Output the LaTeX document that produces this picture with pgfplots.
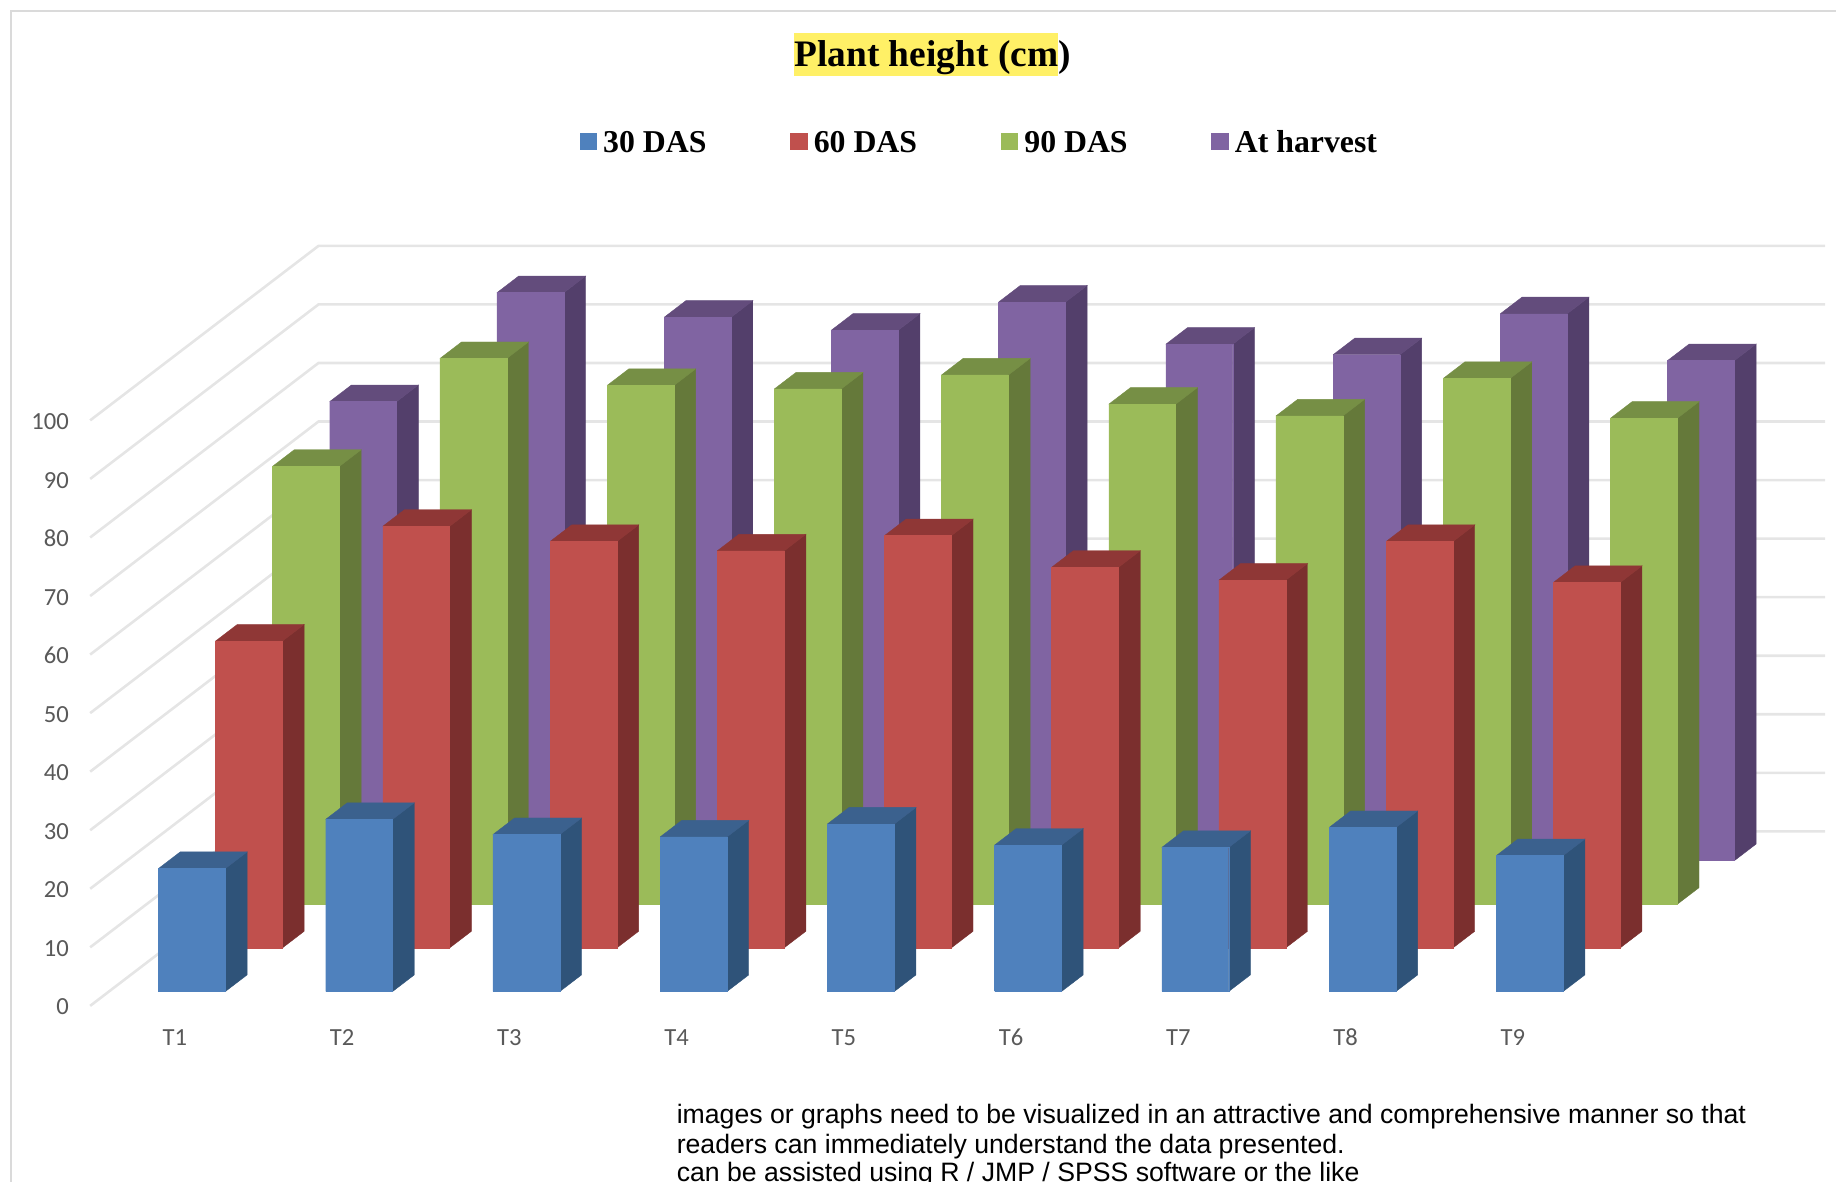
\documentclass[border=0pt]{standalone}
\usepackage{fontspec}
\usepackage{pgfplots}
\usepackage{pgfplotstable}
\pgfplotsset{compat=1.18}
\setmainfont{Liberation Serif}
\newfontfamily\carlito{Carlito}
\newfontfamily\arial{Liberation Sans}

\definecolor{gridc}{HTML}{E5E5E5}
\definecolor{framec}{HTML}{DADADA}
\definecolor{labelc}{HTML}{595959}
\definecolor{marker}{HTML}{FFF066}
\definecolor{bluefront}{HTML}{4F81BD}
\definecolor{bluetop}{HTML}{3B618E}
\definecolor{blueside}{HTML}{2F5379}
\definecolor{redfront}{HTML}{C0504D}
\definecolor{redtop}{HTML}{8F3736}
\definecolor{redside}{HTML}{7B2F2E}
\definecolor{greenfront}{HTML}{9BBB59}
\definecolor{greentop}{HTML}{768F45}
\definecolor{greenside}{HTML}{65793A}
\definecolor{purplefront}{HTML}{8064A2}
\definecolor{purpletop}{HTML}{634C7C}
\definecolor{purpleside}{HTML}{533F6B}

% plant height per treatment T1..T9
\pgfplotstableread{
das30 das60 das90 harvest
21.0  52.4  74.8  78.4
29.4  72.0  93.2  97.0
26.8  69.4  88.6  92.8
26.4  67.8  88.0  90.6
28.6  70.4  90.4  95.4
25.0  65.0  85.4  88.2
24.6  62.8  83.4  86.4
28.0  69.4  89.8  93.4
23.2  62.4  83.0  85.4
}\heights

% one row of 3d bars: column, row number, colour prefix
\newcommand{\barrow}[3]{%
  \pgfplotsinvokeforeach{0,...,8}{%
    \pgfplotstablegetelem{##1}{#1}\of\heights
    \let\val\pgfplotsretval
    \pgfmathsetmacro\xa{##1+0.296}%
    \pgfmathsetmacro\xb{##1+0.696}%
    \pgfmathsetmacro\ya{#2+0.33}%
    \pgfmathsetmacro\yb{#2+0.71}%
    \edef\temp{%
      \noexpand\addplot3[fill=#3side,draw=#3side,line width=0.2pt,no marks,forget plot] coordinates
        {(\xb,\ya,0) (\xb,\yb,0) (\xb,\yb,\val) (\xb,\ya,\val) (\xb,\ya,0)};
      \noexpand\addplot3[fill=#3top,draw=#3top,line width=0.2pt,no marks,forget plot] coordinates
        {(\xa,\ya,\val) (\xb,\ya,\val) (\xb,\yb,\val) (\xa,\yb,\val) (\xa,\ya,\val)};
      \noexpand\addplot3[fill=#3front,draw=#3front,line width=0.2pt,no marks,forget plot] coordinates
        {(\xa,\ya,0) (\xb,\ya,0) (\xb,\ya,\val) (\xa,\ya,\val) (\xa,\ya,0)};
    }\temp
  }%
}

\begin{document}
\begin{tikzpicture}
\useasboundingbox (0,0) rectangle (918pt,591pt);
\clip (0,0) rectangle (918pt,591pt);
\draw[framec,line width=1pt] (5.6pt,0) -- (5.6pt,585.4pt) -- (918pt,585.4pt);

\begin{axis}[
  at={(45.08pt,88.06pt)}, anchor=origin,
  x={(83.61pt,0pt)}, y={(28.54pt,21.81pt)}, z={(0pt,2.9275pt)},
  xmin=0, xmax=9.01, ymin=0, ymax=4, zmin=0, zmax=100,
  clip=false,
  axis line style={draw=none},
  major tick length=0pt,
  xtick={0.5,1.5,...,8.5},
  xticklabels={T1,T2,T3,T4,T5,T6,T7,T8,T9},
  ytick=\empty,
  ztick={0,10,...,100},
  xticklabel style={font=\carlito\fontsize{12.3}{12.3}\selectfont,text=labelc,
    anchor=center,inner sep=0pt,xshift=0.6pt,yshift=-15.7pt},
  zticklabel style={font=\carlito\fontsize{12.3}{12.3}\selectfont,text=labelc,
    anchor=east,inner sep=0pt,xshift=-10.5pt,yshift=-0.6pt},
  /pgf/number format/assume math mode=true,
  legend columns=4,
  legend style={at={(axis cs:2.927,0,147.6)},anchor=west,draw=none,fill=none,
    inner sep=0pt,outer sep=0pt,
    nodes={text height=11pt,text depth=0pt,inner xsep=3.2pt},
    font=\bfseries\fontsize{15.9}{15.9}\selectfont,
    /tikz/every even column/.append style={column sep=38.6pt}},
  legend image code/.code={\fill[#1] (0pt,-4.1pt) rectangle (8.2pt,4.1pt);},
]
\pgfplotsinvokeforeach{0,10,...,100}{
  \addplot3[gridc,line width=1.3pt,no marks,forget plot] coordinates {(0,0,#1) (0,4,#1) (9.01,4,#1)};
}
\barrow{harvest}{3}{purple}
\barrow{das90}{2}{green}
\barrow{das60}{1}{red}
\barrow{das30}{0}{blue}
\addlegendimage{bluefront}\addlegendentry{30 DAS}
\addlegendimage{redfront}\addlegendentry{60 DAS}
\addlegendimage{greenfront}\addlegendentry{90 DAS}
\addlegendimage{purplefront}\addlegendentry{At harvest}
\end{axis}

\setlength{\fboxsep}{0pt}
\node[anchor=base west,inner sep=0pt,font=\bfseries\fontsize{18.7}{18.7}\selectfont]
  at (397pt,557.8pt) {\colorbox{marker}{\rule[-4.8pt]{0pt}{21.7pt}Plant height (cm})};
\node[anchor=base west,inner sep=0pt,font=\arial\fontsize{13.32}{13.32}\selectfont]
  at (338.2pt,29pt) {images or graphs need to be visualized in an attractive and comprehensive manner so that};
\node[anchor=base west,inner sep=0pt,font=\arial\fontsize{13.32}{13.32}\selectfont]
  at (338.2pt,14.3pt) {readers can immediately understand the data presented.};
\node[anchor=base west,inner sep=0pt,font=\arial\fontsize{13.32}{13.32}\selectfont]
  at (338.2pt,0.2pt) {can be assisted using R / JMP / SPSS software or the like};
\end{tikzpicture}
\end{document}
